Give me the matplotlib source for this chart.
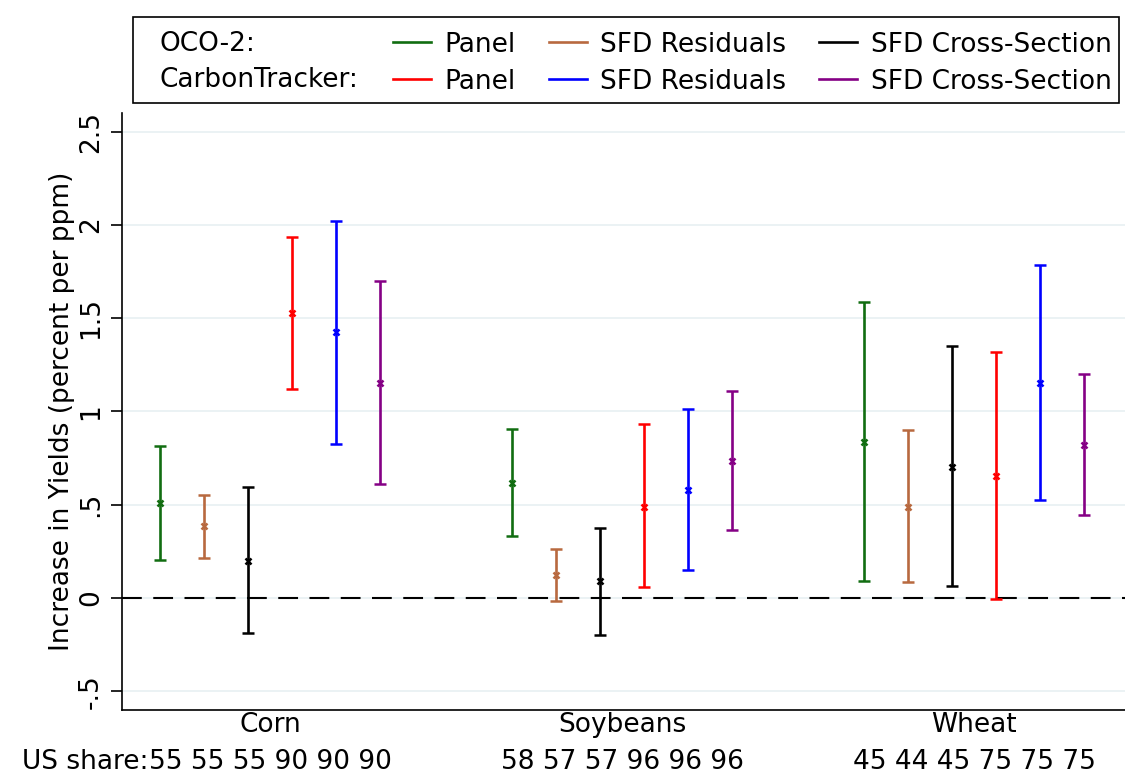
import matplotlib
matplotlib.use("Agg")
import matplotlib.pyplot as plt
import numpy as np
from matplotlib.lines import Line2D
from matplotlib.patches import Rectangle

crops = ["Corn", "Soybeans", "Wheat"]
series = ["Panel", "SFD Residuals", "SFD Cross-Section",
          "Panel", "SFD Residuals", "SFD Cross-Section"]
colors = ["#116d11", "#b8693f", "#000000", "#ff0000", "#0000ff", "#850085"]

# point estimates and 95% CI per crop (rows) and series (cols)
est = [
    [0.51, 0.386, 0.20, 1.527, 1.423, 1.151],
    [0.614, 0.124, 0.09, 0.49, 0.578, 0.733],
    [0.837, 0.49, 0.704, 0.655, 1.15, 0.82],
]
ci_low = [
    [0.204, 0.214, -0.19, 1.119, 0.826, 0.611],
    [0.33, -0.016, -0.20, 0.06, 0.15, 0.365],
    [0.093, 0.084, 0.062, -0.007, 0.526, 0.443],
]
ci_high = [
    [0.815, 0.554, 0.594, 1.937, 2.023, 1.698],
    [0.905, 0.263, 0.375, 0.93, 1.012, 1.11],
    [1.589, 0.90, 1.351, 1.318, 1.785, 1.198],
]
us_share = ["55 55 55 90 90 90", "58 57 57 96 96 96", "45 44 45 75 75 75"]
yticks = [-0.5, 0, 0.5, 1, 1.5, 2, 2.5]
yticklabels = ["-.5", "0", ".5", "1", "1.5", "2", "2.5"]

FS = 19
fig = plt.figure(figsize=(11.25, 7.79), dpi=100)
ax = fig.add_axes([0.1084, 0.0886, 0.8916, 0.7665])

est = np.array(est)
lo = np.array(ci_low)
hi = np.array(ci_high)
handles = []
for j, col in enumerate(colors):
    x = np.arange(len(crops)) * 8 + j
    ax.errorbar(x, est[:, j], yerr=[est[:, j] - lo[:, j], hi[:, j] - est[:, j]],
                fmt="x", color=col, ms=5, mew=1.8, elinewidth=1.9,
                capsize=4.5, capthick=1.9, zorder=3)
    handles.append(Line2D([], [], color=col, lw=1.9))

ax.axhline(0, color="black", lw=1.5, ls=(0, (9.5, 5.5)), zorder=2)

ax.set_xlim(-0.864, 21.93)
ax.set_ylim(-0.6, 2.6)
ax.set_yticks(yticks)
ax.set_yticklabels(yticklabels, rotation=90, va="center", fontsize=FS)
ax.set_xticks([])
ax.grid(axis="y", color="#e8f0f2", lw=1.2)
ax.set_axisbelow(True)
for s in ["top", "right"]:
    ax.spines[s].set_visible(False)
ax.spines["left"].set_linewidth(1.2)
ax.spines["bottom"].set_linewidth(1.2)
ax.tick_params(axis="y", length=8, width=1.2, pad=5)
ax.set_ylabel("Increase in Yields (percent per ppm)", fontsize=FS, labelpad=2)

# category labels and US share row
trans = ax.get_xaxis_transform()
for g, (crop, share) in enumerate(zip(crops, us_share)):
    cx = g * 8 + 2.5
    ax.text(cx, -0.003, crop, transform=trans, ha="center", va="top", fontsize=FS)
    t = ax.text(cx, -0.065, share, transform=trans, ha="center", va="top", fontsize=FS)
    if g == 0:
        fig.canvas.draw()
        bb = t.get_window_extent()
        fig.text(bb.x0 / fig.bbox.width, bb.y1 / fig.bbox.height, "US share:",
                 ha="right", va="top", fontsize=FS)

# legend: column-major, so pair OCO-2 / CarbonTracker entries per column
order = [0, 3, 1, 4, 2, 5]
leg = fig.legend([handles[i] for i in order], [series[i] for i in order],
                 ncol=3, frameon=False, fontsize=FS,
                 loc="upper left", bbox_to_anchor=(0.340, 0.973),
                 handlelength=1.45, handletextpad=0.5, columnspacing=1.25,
                 labelspacing=0.42, borderaxespad=0)
fig.patches.append(Rectangle((0.118, 0.868), 0.877, 0.11, transform=fig.transFigure,
                             fill=False, edgecolor="black", lw=1.2))
fig.text(0.142, 0.943, "OCO-2:", ha="left", va="center", fontsize=FS)
fig.text(0.142, 0.897, "CarbonTracker:", ha="left", va="center", fontsize=FS)

fig.savefig("out.png", dpi=100, facecolor="white")
